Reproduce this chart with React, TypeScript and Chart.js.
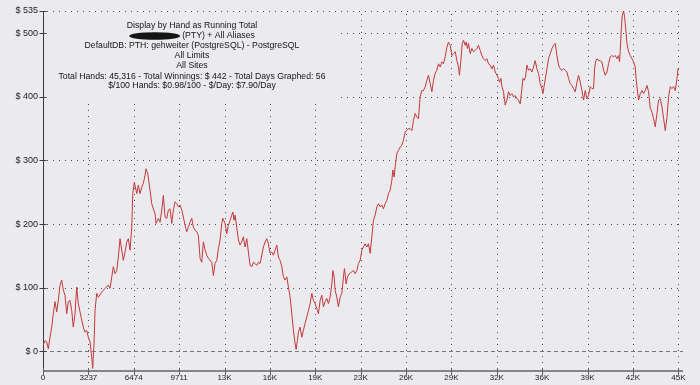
import React, { useEffect, useRef } from "react";
import { Chart, registerables } from "chart.js";

Chart.register(...registerables);

// Hands played (x) and running total winnings in $ (y)
const hands = [
  0, 143, 264, 378, 500, 621, 735, 856, 978, 1092, 1213, 1334, 1449, 1570, 1691, 1805, 1927, 2048, 2162, 2284,
  2405, 2519, 2640, 2762, 2876, 2997, 3118, 3233, 3354, 3475, 3547, 3639, 3711,
  3832, 3946, 4189, 4424, 4660, 4781, 5017, 5138, 5259, 5373, 5495, 5616, 5730, 5852, 5973, 6087, 6208, 6330, 6401, 6515,
  6686, 6801, 6922, 7043, 7157, 7279, 7350, 7471, 7636, 7757, 7871, 7992, 8064, 8228, 8349, 8470, 8585, 8706, 8827, 8941,
  9062, 9184, 9298, 9420, 9541, 9655, 9776, 9898, 10012, 10133, 10255, 10369, 10490, 10611, 10725, 10847, 10968, 11082, 11204, 11325,
  11439, 11560, 11682, 11796, 12038, 12153,
  12274, 12395, 12509, 12631, 12752, 12824, 12988, 13109, 13223, 13344,
  13466, 13537, 13630, 13701, 13822, 13937, 14058, 14179, 14293, 14415,
  14536, 14650, 14772, 14893, 15007, 15128, 15250, 15364, 15485, 15606,
  15721, 15842, 15963, 16077, 16199, 16320, 16434, 16556, 16677, 16791,
  16912, 17034, 17148, 17269, 17390, 17505, 17626, 17747, 17862, 17983,
  18054, 18147, 18218, 18340, 18461, 18575, 18696, 18818, 18932, 19053,
  19174, 19289, 19410, 19531, 19646, 19767, 19888, 20002, 20124, 20245,
  20359, 20480, 20602, 20673, 20766, 20837, 20958, 21073, 21194, 21315,
  21430, 21501, 21622, 21715, 21858, 22029, 22143, 22264, 22386, 22500,
  22621, 22743, 22857, 22978, 23099, 23214, 23335, 23456, 23570, 23692,
  23813, 23927, 24048, 24170, 24284, 24405, 24526, 24641, 24762, 24883,
  24955, 25047, 25119, 25240, 25354, 25476, 25597, 25711, 25832, 25954,
  26068, 26189, 26311, 26425, 26546, 26668, 26782, 26903, 27024, 27138,
  27260, 27381, 27495, 27616, 27738, 27852, 27973, 28094, 28209, 28330,
  28451, 28565, 28687, 28808, 28922, 29044, 29165, 29279, 29400, 29522,
  29636, 29707, 29807, 29900, 29992, 30114, 30185, 30278, 30349, 30470,
  30592, 30706, 30828, 30949, 31063, 31184, 31306, 31420, 31541, 31662,
  31777, 31898, 32019, 32133, 32255, 32376, 32490, 32562, 32661, 32733,
  32847, 32968, 33090, 33204, 33325, 33446, 33561, 33682, 33803, 33918,
  34039, 34160, 34232, 34324, 34417, 34517, 34632, 34752, 34874, 34988,
  35109, 35230, 35345, 35466, 35587, 35659, 35751, 35894, 35987, 36058,
  36180, 36301, 36415, 36536, 36658, 36772, 36893, 37015, 37129, 37250,
  37371, 37486, 37607, 37728, 37842, 37964, 38085, 38199, 38320, 38442,
  38556, 38677, 38798, 38913, 39034, 39155, 39270, 39341, 39412, 39512,
  39626, 39748, 39869, 39983, 40104, 40226, 40340, 40461, 40583, 40697,
  40818, 40939, 41054, 41125, 41175, 41246, 41317, 41410, 41482, 41553,
  41653, 41767, 41888, 42010, 42124, 42245, 42316, 42409, 42481, 42602,
  42724, 42838, 42959, 43080, 43194, 43316, 43437, 43551, 43672, 43794,
  43908, 44029, 44151, 44265, 44386, 44507, 44622, 44743, 44864, 44978,
  45099, 45221, 45292, 45316,
];

const winnings = [
  9, 17, 15, 4, 22, 38, 59, 78, 62, 80, 104, 112, 96, 88, 59, 78, 80, 64, 38, 59,
  101, 75, 62, 49, 38, 30, 33, 22, 15, -9, -27, 12, 64,
  91, 85, 93, 99, 104, 99, 133, 122, 127, 148, 177, 159, 143, 156, 172, 177, 159, 195, 248, 266,
  248, 261, 248, 258, 264, 277, 287, 279, 253, 232, 224, 216, 201, 209, 203, 222, 245, 211, 209, 222,
  224, 201, 222, 235, 232, 227, 230, 222, 211, 198, 188, 195, 203, 209, 195, 190, 188, 182, 146, 140,
  172, 159, 151, 146, 140, 119,
  138, 143, 161, 175, 201, 209, 201, 185, 198, 206,
  214, 219, 206, 214, 195, 175, 167, 172, 180, 164,
  177, 156, 135, 133, 140, 138, 135, 140, 138, 151,
  164, 172, 177, 169, 154, 156, 151, 159, 167, 148,
  143, 133, 117, 112, 117, 101, 85, 59, 33, 12,
  3, 17, 30, 38, 22, 33, 44, 54, 64, 75,
  91, 80, 75, 67, 59, 80, 88, 70, 78, 83,
  75, 85, 106, 127, 117, 96, 85, 70, 85, 91,
  117, 130, 106, 117, 122, 125, 127, 122, 127, 138,
  143, 159, 164, 169, 164, 169, 154, 180, 206, 214,
  227, 232, 227, 230, 224, 232, 237, 248, 253, 269,
  285, 274, 290, 311, 316, 321, 324, 332, 345, 347,
  350, 350, 347, 363, 374, 368, 366, 400, 410, 410,
  416, 426, 434, 421, 408, 426, 437, 442, 452, 447,
  455, 452, 463, 478, 486, 481, 465, 468, 471, 457,
  447, 434, 457, 484, 489, 481, 486, 476, 484, 468,
  476, 471, 473, 476, 481, 473, 465, 460, 457, 460,
  452, 450, 444, 450, 439, 434, 429, 423, 429, 416,
  408, 387, 395, 408, 402, 405, 400, 402, 397, 395,
  389, 413, 429, 426, 431, 450, 442, 444, 439, 447,
  457, 444, 437, 421, 413, 405, 418, 437, 450, 460,
  468, 476, 481, 484, 465, 450, 444, 442, 444, 442,
  439, 429, 421, 418, 413, 408, 423, 434, 423, 410,
  395, 410, 397, 402, 416, 413, 413, 444, 455, 460,
  457, 457, 455, 442, 434, 439, 452, 463, 465, 463,
  465, 460, 465, 455, 473, 505, 528, 535, 526, 510,
  484, 471, 465, 460, 455, 447, 426, 408, 395, 405,
  410, 405, 410, 418, 408, 382, 376, 366, 353, 374,
  395, 397, 384, 366, 347, 368, 400, 416, 413, 416,
  410, 429, 444, 442,
];

const xTickValues = [0, 3237, 6474, 9711, 12948, 16185, 19422, 22659, 25896, 29133, 32370, 35607, 38844, 42081, 45318];
const xTickLabels = ["0", "3237", "6474", "9711", "13K", "16K", "19K", "23K", "26K", "29K", "32K", "36K", "39K", "42K", "45K"];
const yTickValues = [0, 100, 200, 300, 400, 500, 535];
const yTickLabels = ["$ 0", "$ 100", "$ 200", "$ 300", "$ 400", "$ 500", "$ 535"];

const headerLines = [
  "Display by Hand as Running Total",
  "(PTY) + All Aliases",
  "DefaultDB: PTH: gehweiter (PostgreSQL) - PostgreSQL",
  "All Limits",
  "All Sites",
  "Total Hands: 45,316 - Total Winnings: $ 442 - Total Days Graphed: 56",
  "$/100 Hands: $0.98/100 - $/Day: $7.90/Day",
];

const BG = "#ebeaee";
const LINE = "#c23a3a";
const FAMILY = "'Liberation Sans', Arial, sans-serif";

const decorPlugin = {
  id: "decor",
  beforeDraw(chart: any) {
    const ctx = chart.ctx;
    ctx.save();
    ctx.fillStyle = BG;
    ctx.fillRect(0, 0, chart.width, chart.height);
    ctx.restore();
  },
  beforeDatasetsDraw(chart: any) {
    const { ctx, chartArea: a } = chart;
    const xs = chart.scales.x;
    const ys = chart.scales.y;
    ctx.save();
    ctx.lineWidth = 1;

    // dotted grid
    ctx.strokeStyle = "#4a4a4a";
    ctx.setLineDash([1, 5]);
    for (const v of yTickValues) {
      if (v === 0) continue;
      const py = Math.round(ys.getPixelForValue(v)) + 0.5;
      ctx.beginPath();
      ctx.moveTo(a.left + 4, py);
      ctx.lineTo(a.right, py);
      ctx.stroke();
    }
    for (const v of xTickValues) {
      if (v === 0) continue;
      const px = Math.round(xs.getPixelForValue(v)) + 0.5;
      ctx.beginPath();
      ctx.moveTo(px, a.top + 3);
      ctx.lineTo(px, a.bottom);
      ctx.stroke();
    }

    // zero line dashed
    ctx.strokeStyle = "#7a7a7a";
    ctx.setLineDash([4, 3]);
    const p0 = Math.round(ys.getPixelForValue(0)) + 0.5;
    ctx.beginPath();
    ctx.moveTo(a.left, p0);
    ctx.lineTo(a.right, p0);
    ctx.stroke();
    ctx.setLineDash([]);

    // header box
    const cx = 192;
    ctx.fillStyle = BG;
    ctx.fillRect(a.left + 1, a.top + 2, 297, 88);
    ctx.fillStyle = "#151515";
    ctx.font = `8.7px ${FAMILY}`;
    ctx.textBaseline = "middle";
    const rowY = [26, 36, 46, 56, 66, 76.5, 86];
    headerLines.forEach((t, i) => {
      if (i === 1) {
        const tw = ctx.measureText(t).width;
        const blobW = 51;
        const start = cx - (blobW + 2 + tw) / 2;
        ctx.beginPath();
        ctx.ellipse(start + blobW / 2, rowY[i], blobW / 2, 3.8, 0, 0, Math.PI * 2);
        ctx.fill();
        ctx.textAlign = "left";
        ctx.fillText(t, start + blobW + 2, rowY[i]);
      } else {
        ctx.textAlign = "center";
        ctx.fillText(t, cx, rowY[i]);
      }
    });

    // axes
    ctx.strokeStyle = "#3c3c3c";
    ctx.lineWidth = 1;
    const lx = Math.round(a.left) + 0.5;
    ctx.beginPath();
    ctx.moveTo(lx, a.top);
    ctx.lineTo(lx, a.bottom);
    ctx.stroke();
    for (const v of yTickValues) {
      const py = Math.round(ys.getPixelForValue(v)) + 0.5;
      ctx.beginPath();
      ctx.moveTo(lx - 4, py);
      ctx.lineTo(lx + 3, py);
      ctx.stroke();
    }
    ctx.strokeStyle = "#858585";
    ctx.lineWidth = 2;
    const by = Math.round(a.bottom);
    ctx.beginPath();
    ctx.moveTo(a.left, by);
    ctx.lineTo(a.right, by);
    ctx.stroke();
    ctx.lineWidth = 1;
    ctx.strokeStyle = "#606060";
    for (const v of xTickValues) {
      const px = Math.round(xs.getPixelForValue(v)) + 0.5;
      ctx.beginPath();
      ctx.moveTo(px, by - 3);
      ctx.lineTo(px, by + 4);
      ctx.stroke();
    }
    ctx.restore();
  },
};

export default function App() {
  const ref = useRef<HTMLCanvasElement>(null);
  useEffect(() => {
    const canvas = ref.current;
    if (!canvas) return;
    const chart = new Chart(canvas, {
      type: "line",
      data: {
        datasets: [
          {
            data: hands.map((h, i) => ({ x: h, y: winnings[i] })),
            borderColor: LINE,
            borderWidth: 1,
            pointRadius: 0,
            tension: 0,
            fill: false,
          },
        ],
      },
      options: {
        animation: false,
        responsive: false,
        devicePixelRatio: 1,
        layout: { padding: { top: 11, right: 17, left: 0, bottom: 0 } },
        plugins: { legend: { display: false }, tooltip: { enabled: false } },
        scales: {
          x: {
            type: "linear",
            min: 0,
            max: 45650,
            grid: { display: false, drawTicks: false, tickLength: 0 },
            border: { display: false },
            afterBuildTicks: (s: any) => {
              s.ticks = xTickValues.map((v) => ({ value: v }));
            },
            afterFit: (s: any) => {
              s.height = 14;
            },
            ticks: {
              autoSkip: false,
              maxRotation: 0,
              padding: 2,
              color: "#222",
              font: { family: FAMILY, size: 8 },
              callback: (_v: any, i: number) => xTickLabels[i],
            },
          },
          y: {
            type: "linear",
            min: -31,
            max: 535,
            grid: { display: false, drawTicks: false, tickLength: 0 },
            border: { display: false },
            afterBuildTicks: (s: any) => {
              s.ticks = yTickValues.map((v) => ({ value: v }));
            },
            afterFit: (s: any) => {
              s.width = 43;
            },
            ticks: {
              autoSkip: false,
              padding: 5,
              color: "#222",
              font: { family: FAMILY, size: 9 },
              callback: (_v: any, i: number) => yTickLabels[i],
            },
          },
        },
      } as any,
      plugins: [decorPlugin],
    });
    return () => chart.destroy();
  }, []);
  return (
    <div style={{ position: "fixed", left: 0, top: 0, width: 700, height: 385, background: BG }}>
      <canvas ref={ref} width={700} height={385} style={{ display: "block" }} />
    </div>
  );
}
